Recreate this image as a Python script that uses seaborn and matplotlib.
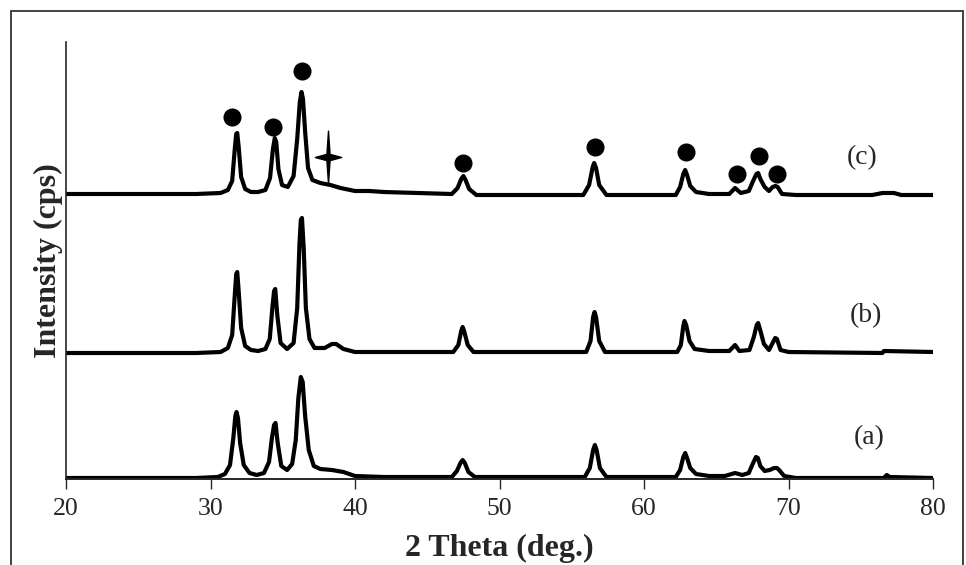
import numpy as np
import pandas as pd
import matplotlib
matplotlib.use("Agg")
import matplotlib.pyplot as plt
from matplotlib.path import Path
from matplotlib.patches import Rectangle
import seaborn as sns

# --- XRD traces: 2-theta (deg) and intensity above each trace's own baseline (arb. units) ---
two_theta_a = [20.0, 25.0, 29.0, 30.5, 31.0, 31.35, 31.58, 31.72, 31.8, 31.9, 32.05, 32.3,
               32.7, 33.2, 33.7, 34.05, 34.25, 34.4, 34.5, 34.65, 34.9, 35.3, 35.65, 35.9,
               36.08, 36.25, 36.38, 36.55, 36.8, 37.15, 37.6, 38.4, 39.2, 40.0, 42.0, 46.7,
               47.05, 47.3, 47.45, 47.6, 47.85, 48.3, 55.9, 56.25, 56.48, 56.6, 56.72, 56.95,
               57.4, 62.2, 62.5, 62.72, 62.85, 62.98, 63.2, 63.6, 64.5, 65.6, 66.3, 66.8,
               67.25, 67.55, 67.75, 67.88, 68.05, 68.35, 68.7, 69.0, 69.2, 69.35, 69.7, 70.5,
               76.6, 76.8, 77.0, 80.0]
intensity_a = [0, 0, 0, 1, 4, 13, 40, 62, 66, 60, 35, 13,
               5, 3, 5, 16, 40, 53, 55, 35, 12, 8, 14, 38,
               80, 101, 96, 62, 28, 12, 9, 8, 6, 2, 1, 1,
               7, 15, 18, 15, 6, 1, 1, 10, 28, 33, 28, 10,
               1, 1, 8, 21, 25, 20, 10, 4, 2, 2, 5, 3,
               5, 15, 21, 20, 12, 7, 8, 10, 10, 8, 2, 0,
               0, 3, 1, 0]

two_theta_b = [20.0, 29.0, 30.7, 31.2, 31.5, 31.68, 31.78, 31.85, 31.95, 32.12, 32.4, 32.8,
               33.3, 33.8, 34.1, 34.28, 34.4, 34.48, 34.62, 34.85, 35.3, 35.75, 36.0, 36.16,
               36.25, 36.33, 36.45, 36.6, 36.85, 37.2, 37.9, 38.4, 38.7, 39.2, 40.0, 46.8,
               47.15, 47.35, 47.45, 47.55, 47.8, 48.2, 56.0, 56.3, 56.48, 56.58, 56.68, 56.9,
               57.3, 62.3, 62.55, 62.72, 62.8, 62.92, 63.15, 63.5, 64.5, 65.9, 66.3, 66.6,
               67.3, 67.6, 67.8, 67.9, 68.02, 68.3, 68.65, 68.9, 69.08, 69.2, 69.45, 70.0,
               76.5, 76.6, 80.0]
intensity_b = [0, 0, 1, 5, 18, 58, 79, 81, 62, 25, 7, 3,
               2, 4, 14, 45, 62, 64, 38, 10, 4, 10, 45, 110,
               133, 135, 105, 45, 14, 5, 5, 9, 9, 4, 1, 1,
               8, 22, 26, 22, 8, 1, 1, 12, 36, 41, 36, 12,
               1, 1, 8, 27, 32, 28, 12, 4, 2, 2, 8, 2,
               3, 16, 28, 30, 24, 9, 3, 10, 15, 14, 3, 1,
               0, 2, 1]

two_theta_c = [20.0, 29.0, 30.7, 31.2, 31.5, 31.68, 31.78, 31.85, 31.95, 32.12, 32.4, 32.8,
               33.3, 33.8, 34.12, 34.32, 34.45, 34.55, 34.7, 34.95, 35.35, 35.75, 36.0, 36.18,
               36.3, 36.4, 36.55, 36.75, 37.05, 37.6, 38.3, 39.0, 40.0, 41.0, 42.0, 46.7,
               47.1, 47.35, 47.5, 47.65, 47.9, 48.4, 55.8, 56.2, 56.45, 56.55, 56.68, 56.9,
               57.4, 62.2, 62.5, 62.72, 62.85, 62.98, 63.2, 63.6, 64.5, 65.9, 66.3, 66.7,
               67.25, 67.55, 67.78, 67.9, 68.05, 68.35, 68.65, 68.9, 69.1, 69.25, 69.55, 70.5,
               75.8, 76.5, 77.3, 77.8, 80.0]
intensity_c = [0, 0, 1, 4, 13, 45, 60, 61, 47, 17, 5, 2,
               2, 4, 16, 45, 56, 52, 25, 9, 7, 18, 55, 92,
               102, 95, 62, 26, 14, 11, 9, 6, 3, 3, 2, 0,
               6, 15, 18, 14, 5, -1, -1, 9, 27, 31, 26, 9,
               -1, -1, 7, 20, 24, 19, 8, 2, 0, 0, 6, 1,
               3, 13, 20, 21, 15, 7, 3, 7, 8, 7, 0, -1,
               -1, 1, 1, -1, -1]

sample_labels = ["(a)", "(b)", "(c)"]

# phase markers on trace (c): filled circles (main phase) and one star (secondary phase)
circle_two_theta = [31.5, 34.3, 36.35, 47.45, 56.6, 62.9, 66.45, 67.95, 69.2]
circle_height = [362, 352, 408, 316, 332, 327, 305, 323, 305]
star_two_theta = [38.1]
star_height = [322]

# vertical stacking of the traces
offsets = {"(a)": 1, "(b)": 126, "(c)": 285}

frames = []
for lab, tt, inten in zip(sample_labels,
                          [two_theta_a, two_theta_b, two_theta_c],
                          [intensity_a, intensity_b, intensity_c]):
    frames.append(pd.DataFrame({"two_theta": tt,
                                "intensity": np.asarray(inten, float) + offsets[lab],
                                "sample": lab}))
df = pd.concat(frames, ignore_index=True)

sns.set_style("ticks")
plt.rcParams["font.family"] = ["Liberation Serif", "DejaVu Serif"]

W, H = 966, 565
fig = plt.figure(figsize=(W / 100, H / 100), dpi=100)
ax = fig.add_axes([66 / W, 1 - 479 / H, (933 - 66) / W, (479 - 42) / H])

sns.lineplot(data=df, x="two_theta", y="intensity", hue="sample", units="sample",
             estimator=None, sort=False, palette=["black"] * 3, linewidth=3.0,
             legend=False, ax=ax, solid_joinstyle="round", solid_capstyle="round")

ax.plot(circle_two_theta, circle_height, "o", color="black", markersize=12, linestyle="none")

# four-pointed star, long vertical arms
star = Path([(0, 1), (0.06, 0.12), (0.5, 0), (0.06, -0.12), (0, -1),
             (-0.06, -0.12), (-0.5, 0), (-0.06, 0.12), (0, 1)],
            [Path.MOVETO] + [Path.LINETO] * 7 + [Path.CLOSEPOLY])
ax.plot(star_two_theta, star_height, marker=star, color="black", markersize=38,
        linestyle="none")

for lab, (x, y) in zip(sample_labels, [(75.55, 41), (75.35, 163), (75.1, 321)]):
    ax.text(x, y, lab, ha="center", va="center", fontsize=20)

ax.set_xlim(20, 80)
ax.set_ylim(0, 437)
ax.set_xticks(range(20, 81, 10))
ax.set_yticks([])
ax.tick_params(axis="x", direction="out", length=7, width=1, labelsize=18.5, pad=7)
for side in ("top", "right"):
    ax.spines[side].set_visible(False)
ax.spines["left"].set_linewidth(1.2)
ax.spines["bottom"].set_linewidth(1.4)

ax.set_xlabel("2 Theta (deg.)", fontsize=23, fontweight="bold", labelpad=10)
ax.set_ylabel("Intensity (cps)", fontsize=23, fontweight="bold", labelpad=2)

# thin frame around the whole figure
fig.patches.append(Rectangle((11 / W, -0.02), (963 - 11) / W, 1.02 - 11 / H,
                             transform=fig.transFigure, fill=False,
                             edgecolor="#333333", linewidth=1.3))

fig.savefig("out.png", dpi=100)
